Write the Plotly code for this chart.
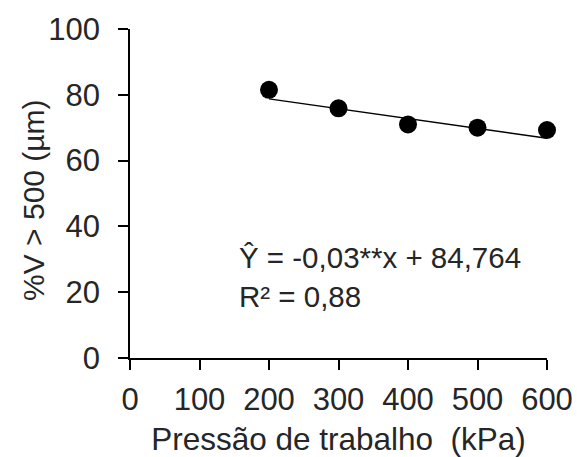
import plotly.graph_objects as go

pressure = [200, 300, 400, 500, 600]
pct_v = [81.5, 75.9, 71.0, 70.0, 69.3]
slope = -0.03
intercept = 84.764
fit_x = [200, 600]
fit_y = [intercept + slope * x for x in fit_x]

x_ticks = [0, 100, 200, 300, 400, 500, 600]
y_ticks = [0, 20, 40, 60, 80, 100]

font_family = "Liberation Sans, Arial, sans-serif"
txt = "#262626"

fig = go.Figure()
fig.add_trace(go.Scatter(x=fit_x, y=fit_y, mode="lines",
                         line=dict(color="black", width=1.5), showlegend=False))
fig.add_trace(go.Scatter(x=pressure, y=pct_v, mode="markers",
                         marker=dict(color="black", size=18), showlegend=False,
                         cliponaxis=False))

fig.update_layout(
    width=577, height=457,
    margin=dict(l=130, r=30, t=29, b=99),
    paper_bgcolor="white", plot_bgcolor="white",
    font=dict(family=font_family, size=31, color=txt),
    xaxis=dict(range=[0, 600], tickvals=x_ticks, showgrid=False, zeroline=False,
               showline=True, linecolor="black", linewidth=1.5, automargin=False,
               ticks="outside", ticklen=10, tickcolor="black", tickwidth=1.5,
               ticklabelstandoff=3, tickfont=dict(size=31),
               title=dict(text="Pressão de trabalho  (kPa)", standoff=12,
                          font=dict(size=31.5))),
    yaxis=dict(range=[0, 100], tickvals=y_ticks, showgrid=False, zeroline=False,
               showline=True, linecolor="black", linewidth=1.5, automargin=False,
               ticks="outside", ticklen=10, tickcolor="black", tickwidth=1.5,
               ticklabelstandoff=12, tickfont=dict(size=31)),
)

# y-axis title placed as a rotated annotation
fig.add_annotation(xref="paper", yref="paper", x=-0.233, y=0.48,
                   xanchor="center", yanchor="middle", showarrow=False,
                   textangle=-90, text="%V > 500 (µm)",
                   font=dict(size=30, color=txt))

fig.add_annotation(xref="paper", yref="paper", x=0.258, y=0.3055,
                   xanchor="left", yanchor="middle", showarrow=False,
                   borderpad=0,
                   text="Ŷ = -0,03**x + 84,764", font=dict(size=29.5, color=txt))
fig.add_annotation(xref="paper", yref="paper", x=0.258, y=0.1869,
                   xanchor="left", yanchor="middle", showarrow=False,
                   borderpad=0,
                   text="R² = 0,88", font=dict(size=29.5, color=txt))

fig.write_html("out.html")
